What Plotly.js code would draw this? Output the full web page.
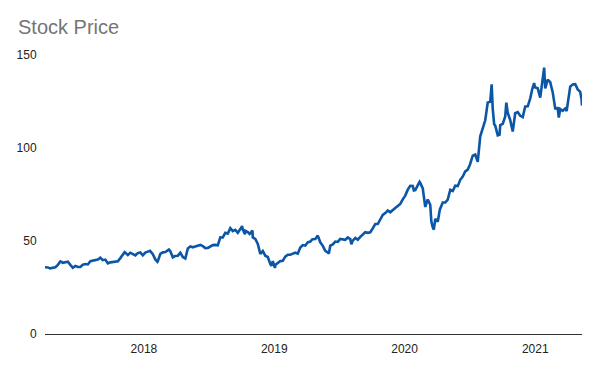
<!DOCTYPE html>
<html>
<head>
<meta charset="utf-8">
<script src="https://cdn.plot.ly/plotly-3.0.1.min.js"></script>
<style>html,body{margin:0;padding:0;background:#fff;}#chart{width:600px;height:371px;}</style>
</head>
<body>
<div id="chart"></div>
<script>
const dates = [
"2017-03-30","2017-04-07","2017-04-13","2017-04-21","2017-04-28","2017-05-05","2017-05-12","2017-05-19","2017-05-26","2017-06-02",
"2017-06-09","2017-06-16","2017-06-23","2017-06-30","2017-07-07","2017-07-14","2017-07-21","2017-07-28","2017-08-04","2017-08-11",
"2017-08-18","2017-08-25","2017-09-01","2017-09-08","2017-09-15","2017-09-22","2017-09-29","2017-10-06","2017-10-13","2017-10-20",
"2017-10-27","2017-11-03","2017-11-08","2017-11-10","2017-11-17","2017-11-24","2017-12-01","2017-12-08","2017-12-15","2017-12-22",
"2017-12-29","2018-01-05","2018-01-12","2018-01-18","2018-01-26","2018-02-02","2018-02-08","2018-02-09","2018-02-16","2018-02-23",
"2018-03-02","2018-03-09","2018-03-12","2018-03-16","2018-03-23","2018-03-29","2018-04-06","2018-04-13","2018-04-20","2018-04-27",
"2018-05-04","2018-05-11","2018-05-18","2018-05-25","2018-06-01","2018-06-08","2018-06-15","2018-06-22","2018-06-29","2018-07-06",
"2018-07-13","2018-07-20","2018-07-27","2018-08-03","2018-08-10","2018-08-17","2018-08-24","2018-08-31","2018-09-07","2018-09-14",
"2018-09-21","2018-09-28","2018-10-03","2018-10-05","2018-10-11","2018-10-12","2018-10-19","2018-10-24","2018-10-26","2018-11-01",
"2018-11-02","2018-11-09","2018-11-16","2018-11-23","2018-11-30","2018-12-07","2018-12-14","2018-12-21","2018-12-24","2018-12-28",
"2019-01-03","2019-01-04","2019-01-11","2019-01-18","2019-01-25","2019-02-01","2019-02-08","2019-02-15","2019-02-22","2019-03-01",
"2019-03-08","2019-03-15","2019-03-22","2019-03-29","2019-04-05","2019-04-12","2019-04-18","2019-04-26","2019-05-03","2019-05-10",
"2019-05-17","2019-05-24","2019-05-31","2019-06-03","2019-06-07","2019-06-14","2019-06-21","2019-06-28","2019-07-05","2019-07-12",
"2019-07-19","2019-07-26","2019-08-02","2019-08-05","2019-08-09","2019-08-16","2019-08-23","2019-08-30","2019-09-06","2019-09-13",
"2019-09-20","2019-09-27","2019-10-04","2019-10-11","2019-10-18","2019-10-25","2019-11-01","2019-11-08","2019-11-15","2019-11-22",
"2019-11-29","2019-12-06","2019-12-13","2019-12-20","2019-12-27","2020-01-03","2020-01-10","2020-01-17","2020-01-24","2020-01-27",
"2020-01-31","2020-02-07","2020-02-12","2020-02-14","2020-02-21","2020-02-28","2020-03-06","2020-03-13","2020-03-16","2020-03-20",
"2020-03-23","2020-03-27","2020-04-03","2020-04-09","2020-04-17","2020-04-24","2020-05-01","2020-05-08","2020-05-15","2020-05-22",
"2020-05-29","2020-06-05","2020-06-12","2020-06-19","2020-06-26","2020-07-02","2020-07-10","2020-07-17","2020-07-24","2020-07-31",
"2020-08-07","2020-08-14","2020-08-21","2020-08-28","2020-09-01","2020-09-04","2020-09-08","2020-09-11","2020-09-18","2020-09-23",
"2020-09-25","2020-10-02","2020-10-09","2020-10-12","2020-10-16","2020-10-23","2020-10-30","2020-11-06","2020-11-13","2020-11-20",
"2020-11-27","2020-12-04","2020-12-11","2020-12-18","2020-12-24","2020-12-29","2020-12-31","2021-01-08","2021-01-15","2021-01-22",
"2021-01-26","2021-01-29","2021-02-05","2021-02-12","2021-02-19","2021-02-26","2021-03-05","2021-03-08","2021-03-12","2021-03-19",
"2021-03-26","2021-03-30","2021-04-01","2021-04-09","2021-04-16","2021-04-23","2021-04-30","2021-05-07","2021-05-11","2021-05-12"
];
const prices = [
35.9,35.8,35.3,35.6,35.9,37.2,39.0,38.3,38.4,38.9,
37.2,35.6,36.6,36.0,36.0,37.3,37.6,37.4,39.1,39.4,
39.4,40.0,41.0,39.7,40.0,38.0,38.5,38.8,39.2,39.1,
40.8,43.1,44.0,43.7,42.5,43.7,42.8,42.3,43.5,43.8,
42.3,43.8,44.3,44.7,42.9,40.1,38.8,39.1,43.1,43.9,
44.1,45.0,45.4,44.5,41.2,41.9,42.1,43.7,41.4,40.6,
46.0,47.1,46.6,47.1,47.6,47.9,47.2,46.2,46.3,47.0,
47.8,47.9,47.7,52.0,51.9,54.4,54.0,56.9,55.3,56.0,
54.4,56.4,58.0,56.1,53.6,55.5,54.8,53.8,54.1,55.6,
51.9,51.1,48.4,43.1,44.6,42.1,41.4,37.7,36.7,39.1,
35.5,37.1,38.1,39.2,39.4,41.6,42.6,42.6,43.2,43.7,
43.2,46.5,47.8,47.5,49.3,49.7,51.0,51.1,52.9,49.3,
47.4,44.7,43.8,43.3,47.5,48.2,49.7,49.5,51.1,50.8,
50.6,51.9,51.0,48.3,50.2,51.6,50.7,52.2,53.3,54.7,
54.4,54.7,56.8,59.1,59.1,61.6,64.0,65.0,66.4,65.4,
66.8,67.7,68.8,69.9,72.4,74.4,77.6,79.7,79.6,77.2,
77.4,80.0,81.8,81.2,78.3,68.3,72.3,69.5,60.6,57.3,
56.1,61.9,60.4,67.0,70.7,70.7,72.3,77.5,76.9,79.7,
79.5,82.9,84.7,87.4,88.4,91.0,95.9,96.5,92.6,106.3,
111.1,114.9,124.4,124.8,134.2,121.0,112.8,112.0,106.8,107.1,
112.3,113.0,117.0,124.4,119.0,115.0,108.9,118.7,119.3,117.3,
116.6,122.3,122.4,126.7,132.0,134.9,132.7,132.1,127.1,139.1,
143.2,132.0,136.8,135.4,129.9,121.3,121.4,116.4,121.0,120.0,
121.2,119.9,123.0,133.0,134.2,134.3,131.5,130.2,125.9,122.8
];
const yTickVals = [0, 50, 100, 150];
const xTickVals = ["2018-01-01", "2019-01-01", "2020-01-01", "2021-01-01"];
const xTickText = ["2018", "2019", "2020", "2021"];

const trace = {
  x: dates, y: prices, type: 'scatter', mode: 'lines',
  line: {color: '#0b56a6', width: 2.6},
  hoverinfo: 'x+y'
};
const font = {family: 'Arial, "Liberation Sans", sans-serif', size: 12, color: '#222222'};
const layout = {
  width: 600, height: 371,
  margin: {l: 45, r: 18, t: 55, b: 37},
  paper_bgcolor: '#ffffff', plot_bgcolor: '#ffffff',
  showlegend: false,
  font: font,
  title: {text: 'Stock Price', x: 18/600, xanchor: 'left', xref: 'container',
          y: 1 - 27/371, yanchor: 'middle', yref: 'container',
          font: {family: 'Arial, "Liberation Sans", sans-serif', size: 20, color: '#757575'}},
  xaxis: {
    type: 'date', range: ['2017-03-30', '2021-05-12'],
    tickvals: xTickVals, ticktext: xTickText,
    showgrid: false, zeroline: false,
    showline: true, linecolor: '#333333', linewidth: 1,
    ticks: 'outside', ticklen: 4, tickcolor: 'rgba(0,0,0,0)',
    tickfont: font
  },
  yaxis: {
    range: [0, 150], tickvals: yTickVals,
    showgrid: false, zeroline: false, showline: false,
    ticks: 'outside', ticklen: 5, tickcolor: 'rgba(0,0,0,0)',
    tickfont: font
  }
};
Plotly.newPlot('chart', [trace], layout, {displayModeBar: false, staticPlot: true});
</script>
</body>
</html>
